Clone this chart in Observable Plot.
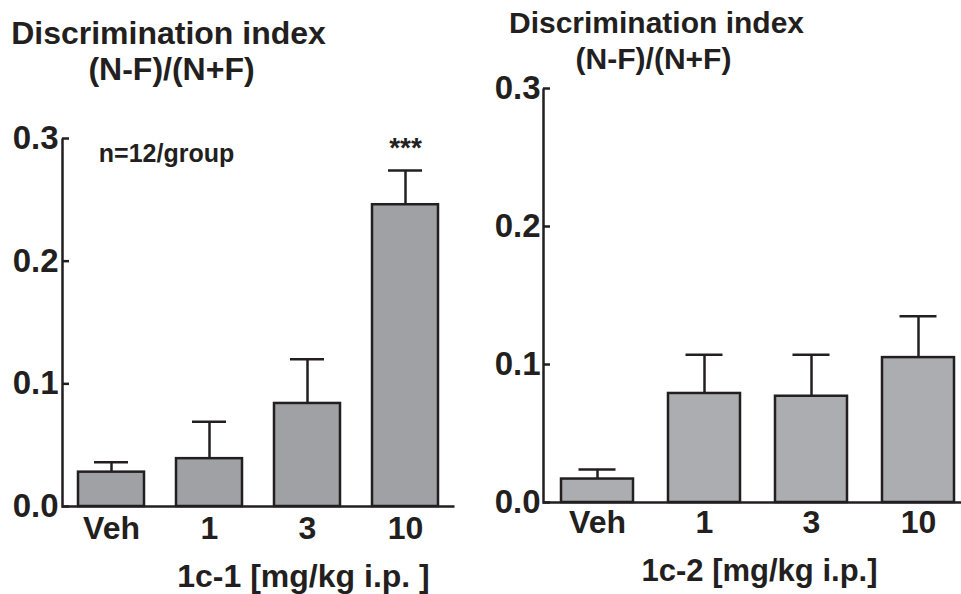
<!DOCTYPE html>
<html><head><meta charset="utf-8">
<script src="https://cdn.jsdelivr.net/npm/d3@7"></script>
<script src="https://cdn.jsdelivr.net/npm/@observablehq/plot@0.6"></script>
<style>
body{margin:0;background:#fff;}
#wrap{position:relative;width:961px;height:594px;overflow:hidden;background:#fff;}
#wrap svg{position:absolute;top:0;}
</style></head><body><div id="wrap"></div>
<script>
// ---- data ----
const categories = ["Veh", "1", "3", "10"];
const yTicks = [0, 0.1, 0.2, 0.3];
const meanA = [0.028, 0.039, 0.084, 0.246];
const semA  = [0.008, 0.030, 0.036, 0.028];
const sigA  = ["", "", "", "***"];
const meanB = [0.017, 0.079, 0.077, 0.105];
const semB  = [0.007, 0.028, 0.030, 0.030];
const sigB  = ["", "", "", ""];
const titleLine1 = "Discrimination index";
const titleLine2 = "(N-F)/(N+F)";
const xLabelA = "1c-1 [mg/kg i.p. ]";
const xLabelB = "1c-2 [mg/kg i.p.]";
const noteA = "n=12/group";

const INK = "#231f20";

function panel(o) {
  const rows = categories.map((c, i) => ({cat: c, mean: o.means[i], sem: o.sems[i], sig: o.sig[i]}));
  const fw = o.width - o.ml - o.mr;
  const fh = o.height - o.mt - o.mb;
  const marks = [
    Plot.ruleX(rows, {x: "cat", y1: "mean", y2: d => d.mean + d.sem, stroke: INK, strokeWidth: 2.5}),
    Plot.barY(rows, {x: "cat", y: "mean", fill: o.fill, stroke: INK, strokeWidth: 2.5}),
    Plot.tickY(rows, {x: "cat", y: d => d.mean + d.sem, stroke: INK, strokeWidth: 2.5, insetLeft: o.capInset, insetRight: o.capInset}),
    Plot.tickY(yTicks, {y: d => d, stroke: INK, strokeWidth: 2.5, insetRight: fw - 7}),
    Plot.frame({stroke: INK, strokeWidth: 2.5, fill: "none", strokeDasharray: `0 ${fw + fh} ${fw + fh + 4}`}),
    Plot.axisY({ticks: yTicks, tickFormat: d3.format(".1f"), tickSize: 0, tickPadding: o.yPad, fontSize: 33, label: null}),
    Plot.axisX({tickSize: 0, tickPadding: o.xPad, fontSize: 32, label: null}),
    Plot.text([titleLine1], {text: d => d, frameAnchor: "top-left", dx: o.t1dx, dy: o.t1dy, textAnchor: "middle", lineAnchor: "middle", fontSize: o.titleSize, fill: INK}),
    Plot.text([titleLine2], {text: d => d, frameAnchor: "top-left", dx: o.t2dx, dy: o.t2dy, textAnchor: "middle", lineAnchor: "middle", fontSize: o.titleSize, fill: INK}),
    Plot.text([o.xlabel], {text: d => d, frameAnchor: "bottom-left", dx: o.xldx, dy: o.xldy, textAnchor: "middle", lineAnchor: "middle", fontSize: o.xlSize, fill: INK}),
    Plot.text(rows, {x: "cat", text: "sig", frameAnchor: "top", dy: 10, lineAnchor: "middle", fontSize: 28, fill: INK})
  ];
  if (o.note) marks.push(Plot.text([o.note], {text: d => d, frameAnchor: "top-left", dx: o.ndx, dy: o.ndy, textAnchor: "middle", lineAnchor: "middle", fontSize: 25, fill: INK}));
  const svg = Plot.plot({
    width: o.width, height: o.height,
    marginLeft: o.ml, marginRight: o.mr, marginTop: o.mt, marginBottom: o.mb,
    style: {fontFamily: "'Liberation Sans', Arial, Helvetica, sans-serif", fontWeight: "bold", color: INK, background: "transparent", overflow: "visible"},
    x: {domain: categories, paddingInner: o.pi, paddingOuter: o.po, align: o.align, axis: null},
    y: {domain: [0, 0.3], axis: null},
    marks
  });
  svg.style.left = o.left + "px";
  return svg;
}

const wrap = document.getElementById("wrap");
wrap.appendChild(panel({
  left: 0, width: 480, height: 594, ml: 62, mr: 26, mt: 138, mb: 88,
  means: meanA, sems: semA, sig: sigA, fill: "#a0a1a5",
  pi: 0.327, po: 0.1635, align: 0.5, capInset: 16, yPad: 4, xPad: 10,
  titleSize: 32, t1dx: 106, t1dy: -105, t2dx: 109, t2dy: -69,
  xlabel: xLabelA, xldx: 241, xldy: 70, xlSize: 32,
  note: noteA, ndx: 104, ndy: 15
}));
wrap.appendChild(panel({
  left: 480, width: 481, height: 594, ml: 63, mr: 0, mt: 88, mb: 92,
  means: meanB, sems: semB, sig: sigB, fill: "#acadb0",
  pi: 0.33, po: 0.109, align: 0.72, capInset: 17.5, yPad: 3, xPad: 8,
  titleSize: 30, t1dx: 113, t1dy: -65, t2dx: 110, t2dy: -29,
  xlabel: xLabelB, xldx: 216, xldy: 69, xlSize: 31
}));
</script></body></html>
